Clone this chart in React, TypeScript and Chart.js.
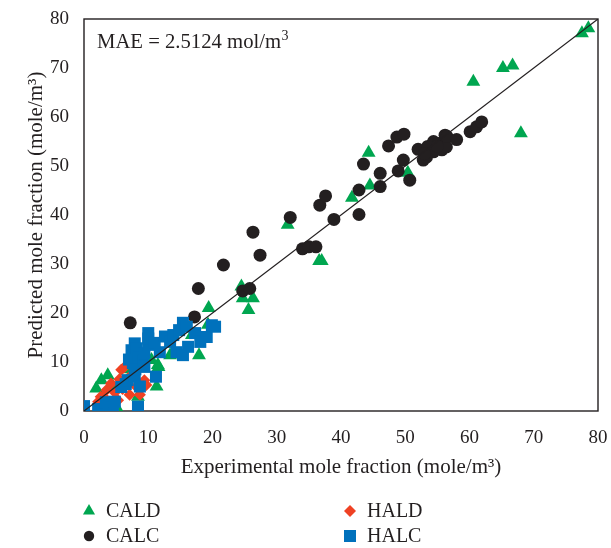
import { useEffect, useRef } from 'react';
import { Chart, registerables } from 'chart.js';

Chart.register(...registerables);

const FONT = "'Liberation Serif', 'Times New Roman', serif";
const INK = '#231F20';

// Experimental (x) vs predicted (y) mole fractions, mole/m³
const caldX = [78.5, 77.5, 66.7, 65.2, 60.6, 68.0, 44.3, 44.5, 41.7, 31.7, 36.6, 37.0, 50.4, 24.5, 24.7, 26.3, 25.6, 19.4, 19.3, 16.8, 17.9, 13.4, 11.6, 11.5, 11.3, 10.5, 8.4, 5.3, 3.7, 2.7, 1.9, 6.5, 4.5];
const caldY = [78.1, 77.1, 70.5, 70.0, 67.2, 56.7, 52.7, 46.0, 43.5, 38.0, 30.6, 30.6, 48.6, 25.4, 23.0, 23.0, 20.6, 21.0, 17.6, 15.5, 11.4, 11.4, 9.0, 9.4, 5.0, 10.4, 2.9, 0.2, 7.3, 6.3, 4.6, 8.5, 5.0];

const calcX = [7.2, 17.2, 17.8, 21.7, 24.7, 25.8, 26.3, 27.4, 32.1, 34.0, 35.0, 36.1, 36.7, 37.6, 38.9, 42.8, 42.8, 43.5, 46.1, 46.1, 47.4, 48.7, 49.8, 48.9, 49.7, 50.7, 52.0, 52.8, 53.3, 54.4, 54.4, 54.6, 55.2, 55.7, 56.2, 56.4, 56.5, 58.0, 60.1, 61.1, 61.9, 53.5, 55.0, 53.0];
const calcY = [18.0, 19.2, 25.0, 29.8, 24.5, 25.0, 36.5, 31.8, 39.5, 33.1, 33.5, 33.5, 42.0, 43.9, 39.1, 40.1, 45.1, 50.4, 45.8, 48.5, 54.1, 55.9, 56.5, 49.0, 51.2, 47.1, 53.4, 51.2, 51.8, 52.9, 55.0, 53.3, 54.6, 53.3, 56.3, 53.9, 56.0, 55.4, 57.0, 58.0, 59.0, 54.0, 54.0, 52.5];

const haldX = [2.2, 2.6, 3.0, 3.5, 4.2, 4.8, 5.3, 5.5, 5.8, 6.0, 6.3, 6.8, 7.1, 7.5, 8.1, 8.7, 9.4, 9.7];
const haldY = [1.9, 2.9, 3.0, 4.3, 5.6, 3.8, 2.2, 6.5, 8.4, 4.5, 9.0, 6.6, 3.3, 7.5, 5.0, 3.3, 6.3, 5.3];

const halcX = [0, 0, 2.2, 3.4, 3.8, 4.5, 4.8, 8.4, 5.8, 6.5, 6.8, 7.9, 8.7, 7.6, 7.0, 7.4, 7.9, 8.2, 8.5, 8.0, 9.2, 9.4, 9.4, 10.0, 10.0, 10.0, 11.0, 11.2, 11.8, 12.6, 13.4, 13.9, 14.4, 14.8, 15.4, 15.4, 16.0, 16.2, 17.3, 18.1, 19.1, 19.9, 20.4];
const halcY = [0.4, 1.0, 0.4, 1.8, 0.6, 0.8, 1.9, 0.9, 4.9, 5.5, 6.3, 7.0, 5.0, 9.8, 10.5, 12.4, 13.8, 12.8, 11.0, 8.5, 10.4, 11.8, 9.0, 15.9, 13.5, 14.8, 13.9, 7.0, 12.0, 15.2, 14.1, 15.5, 12.0, 16.5, 18.0, 11.4, 17.2, 13.1, 15.9, 14.1, 15.1, 17.5, 17.2];

const axisMin = 0;
const axisMax = 80;
const tickStep = 10;
const maeText = 'MAE = 2.5124 mol/m';

const GREEN = '#00A650';
const RED = '#EF4123';
const BLUE = '#0071BC';

const pts = (xs: number[], ys: number[]) => xs.map((x, i) => ({ x, y: ys[i] }));

// legend grid: [label, colour, shape, column, row]
const legendItems: [string, string, string, number, number][] = [
  ['CALD', GREEN, 'triangle', 0, 0],
  ['CALC', INK, 'circle', 0, 1],
  ['HALD', RED, 'rectRot', 1, 0],
  ['HALC', BLUE, 'rect', 1, 1],
];

function marker(ctx: CanvasRenderingContext2D, shape: string, x: number, y: number) {
  ctx.beginPath();
  if (shape === 'triangle') {
    const r = 7;
    ctx.moveTo(x, y - r);
    ctx.lineTo(x + r * 0.866, y + r / 2);
    ctx.lineTo(x - r * 0.866, y + r / 2);
    ctx.closePath();
  } else if (shape === 'circle') {
    ctx.arc(x, y, 5.2, 0, Math.PI * 2);
  } else if (shape === 'rectRot') {
    const r = 6;
    ctx.moveTo(x - r, y);
    ctx.lineTo(x, y - r);
    ctx.lineTo(x + r, y);
    ctx.lineTo(x, y + r);
    ctx.closePath();
  } else {
    ctx.rect(x - 6, y - 6, 12, 12);
  }
  ctx.fill();
}

const decorations = {
  id: 'decorations',
  beforeDatasetsDraw(chart: any) {
    const { ctx, chartArea: a } = chart;
    ctx.save();
    ctx.strokeStyle = INK;
    ctx.lineWidth = 1.4;
    ctx.strokeRect(a.left, a.top, a.right - a.left, a.bottom - a.top);
    ctx.restore();
  },
  afterDraw(chart: any) {
    const { ctx, chartArea: a } = chart;
    ctx.save();
    ctx.fillStyle = INK;
    ctx.textBaseline = 'alphabetic';
    ctx.textAlign = 'left';
    // MAE note with superscript
    ctx.font = `20.7px ${FONT}`;
    const nx = a.left + 13;
    const ny = a.top + 29;
    ctx.fillText(maeText, nx, ny);
    const w = ctx.measureText(maeText).width;
    ctx.font = `14px ${FONT}`;
    ctx.fillText('3', nx + w + 0.5, ny - 8);

    // legend below the x-axis title
    const colX = [a.left + 5, a.left + 266];
    const rowY = [a.bottom + 100, a.bottom + 125];
    for (const [label, color, shape, c, r] of legendItems) {
      ctx.fillStyle = color;
      marker(ctx, shape, colX[c], rowY[r]);
      ctx.fillStyle = INK;
      ctx.font = `20px ${FONT}`;
      ctx.textBaseline = 'middle';
      ctx.fillText(label, colX[c] + 17, rowY[r] + 1);
    }
    ctx.restore();
  },
};

const clearScalePadding = (s: any) => {
  s.paddingLeft = 0;
  s.paddingRight = 0;
  s.paddingTop = 0;
  s.paddingBottom = 0;
};

export default function App() {
  const ref = useRef<HTMLCanvasElement>(null);

  useEffect(() => {
    const canvas = ref.current;
    if (!canvas) return;
    const tickFont = { family: FONT, size: 19 };
    const titleFont = { family: FONT, size: 21 };
    const chart = new Chart(canvas, {
      type: 'scatter',
      data: {
        datasets: [
          {
            type: 'line',
            label: 'y = x',
            data: [
              { x: axisMin, y: axisMin },
              { x: axisMax, y: axisMax },
            ],
            borderColor: INK,
            borderWidth: 1.2,
            pointRadius: 0,
            showLine: true,
            order: 0,
          } as any,
          {
            label: 'HALC',
            data: pts(halcX, halcY),
            pointStyle: 'rect',
            pointRadius: 8.5,
            backgroundColor: BLUE,
            borderWidth: 0,
            order: 1,
          },
          {
            label: 'HALD',
            data: pts(haldX, haldY),
            pointStyle: 'rectRot',
            pointRadius: 6,
            backgroundColor: RED,
            borderWidth: 0,
            order: 2,
          },
          {
            label: 'CALC',
            data: pts(calcX, calcY),
            pointStyle: 'circle',
            pointRadius: 6.5,
            backgroundColor: INK,
            borderWidth: 0,
            order: 3,
          },
          {
            label: 'CALD',
            data: pts(caldX, caldY),
            pointStyle: 'triangle',
            pointRadius: 8,
            backgroundColor: GREEN,
            borderWidth: 0,
            order: 4,
          },
        ],
      },
      options: {
        responsive: false,
        animation: false,
        devicePixelRatio: 1,
        events: [],
        layout: { padding: { left: 0, top: 19, right: 13, bottom: 67 } },
        plugins: {
          legend: { display: false },
          tooltip: { enabled: false },
        },
        scales: {
          x: {
            type: 'linear',
            min: axisMin,
            max: axisMax,
            grid: { display: false, drawTicks: false },
            border: { display: false },
            ticks: { stepSize: tickStep, padding: 16, font: tickFont, color: INK, maxRotation: 0 },
            title: {
              display: true,
              text: 'Experimental mole fraction (mole/m³)',
              font: titleFont,
              color: INK,
              padding: { top: 0, bottom: 1 },
            },
            afterFit: (s: any) => {
              s.height = 70;
              clearScalePadding(s);
            },
          },
          y: {
            type: 'linear',
            min: axisMin,
            max: axisMax,
            grid: { display: false, drawTicks: false },
            border: { display: false },
            ticks: { stepSize: tickStep, padding: 15, font: tickFont, color: INK },
            title: {
              display: true,
              text: 'Predicted mole fraction (mole/m³)',
              font: titleFont,
              color: INK,
              padding: { top: 24, bottom: 0 },
            },
            afterFit: (s: any) => {
              s.width = 84;
              clearScalePadding(s);
            },
          },
        },
      },
      plugins: [decorations],
    });
    return () => chart.destroy();
  }, []);

  return (
    <div style={{ position: 'absolute', left: 0, top: 0, width: 611, height: 548, background: '#fff' }}>
      <canvas ref={ref} width={611} height={548} style={{ display: 'block', width: 611, height: 548 }} />
    </div>
  );
}
